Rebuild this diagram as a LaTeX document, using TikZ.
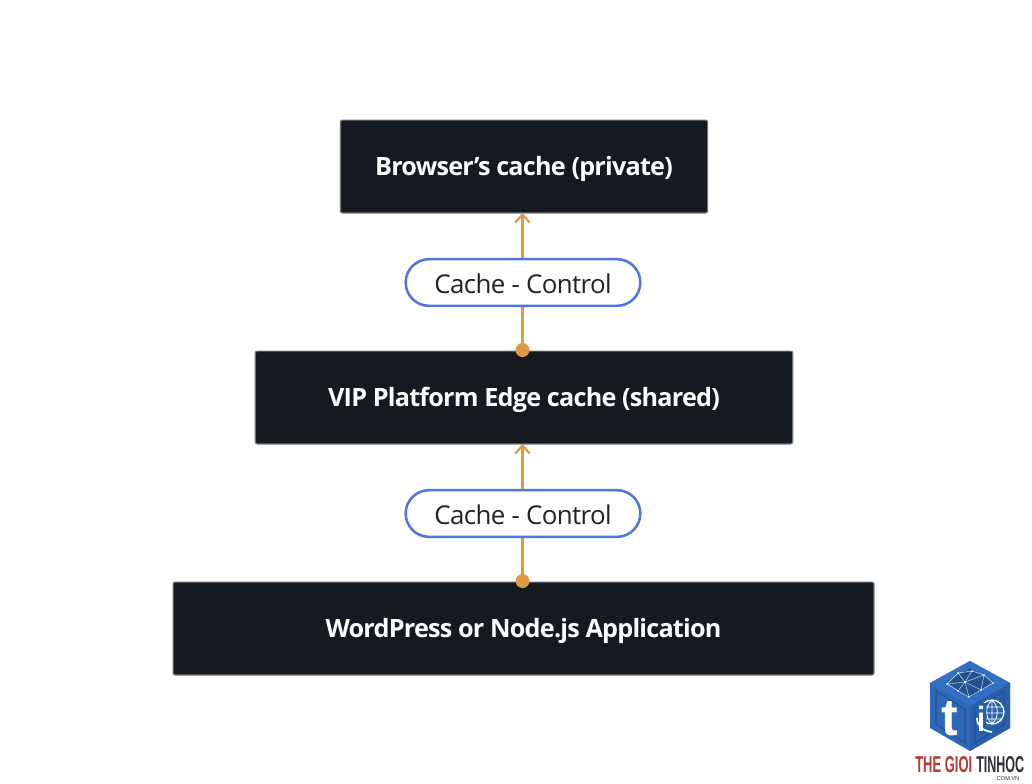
\documentclass[tikz,border=0pt]{standalone}
\usepackage{fontspec}
\setmainfont[LetterSpace=-2.2,BoldFeatures={LetterSpace=-3.1}]{Open Sans}
\newfontfamily\logofont{Liberation Sans}
\usetikzlibrary{arrows.meta}
\definecolor{boxfill}{HTML}{141A20}
\definecolor{boxedge}{HTML}{6F7276}
\definecolor{linkc}{HTML}{DF9A45}
\definecolor{pillc}{HTML}{4F76DC}
\definecolor{pilltext}{HTML}{1D2329}
\definecolor{cubeA}{HTML}{2E68B8}
\definecolor{cubeB}{HTML}{2A5FAE}
\definecolor{cubeC}{HTML}{3470C2}
\definecolor{cubeD}{HTML}{24528F}
\definecolor{logored}{HTML}{B5392F}
\definecolor{logodark}{HTML}{2B3036}
\newcommand{\lowtext}[2]{\raisebox{-#1}[0pt][0pt]{#2}}
\tikzset{
  x=0.75pt,y=-0.75pt,
  darkbox/.style={draw=boxedge,line width=0.9pt,fill=boxfill,rounded corners=1.5pt,inner sep=0pt,minimum height=69.6pt,
    text=white,font=\fontsize{18.9pt}{20pt}\selectfont\bfseries},
  pill/.style={draw=pillc,line width=1.9pt,fill=white,rounded corners=17.5pt,minimum width=176pt,minimum height=35pt,
    inner sep=0pt,text=pilltext,font=\fontsize{19.4pt}{22pt}\selectfont},
  link/.style={draw=linkc,line width=1.6pt},
  tiparrow/.style={-{Straight Barb[length=6pt,width=11pt,line width=1.6pt]}},
  pin/.style={circle,fill=linkc,minimum size=10.5pt,inner sep=0pt},
  logotext/.style={inner sep=0pt,anchor=south west,font=\logofont\bfseries},
  net/.style={draw=white!85!cubeC,line width=0.3pt},
}
\begin{document}
\begin{tikzpicture}
\useasboundingbox (0,0) rectangle (1032,783);
\fill[white] (0,0) rectangle (1032,783);
% boxes
\node[darkbox,minimum width=275.4pt] (browser) at (524,166.5) {\lowtext{6.4pt}{Browser’s cache (private)}};
\node[darkbox,minimum width=403pt] (edge) at (524,397.5) {\lowtext{6.4pt}{VIP Platform Edge cache (shared)}};
\node[darkbox,minimum width=525.6pt] (app) at (523.5,628.5) {\lowtext{6.4pt}{WordPress or Node.js Application}};
% anchors
\node[pin] (pinA) at (522.5,350) {};
\node[pin] (pinB) at (522.5,581) {};
\coordinate (topA) at (522.5,213);
\coordinate (topB) at (522.5,444);
\draw[link,tiparrow] (pinA.center) -- (topA);
\draw[link,tiparrow] (pinB.center) -- (topB);
\node[pill] (pillA) at (523,282.5) {\lowtext{8.3pt}{Cache - Control}};
\node[pill] (pillB) at (523,513.5) {\lowtext{8.3pt}{Cache - Control}};
% logo cube
\fill[cubeA] (970,661) -- (1010,683) -- (1010,728) -- (970,751) -- (930,728) -- (930,683) -- cycle;
\fill[cubeC] (970,661) -- (1010,683) -- (970,706) -- (930,683) -- cycle;
\fill[cubeB] (970,706) -- (1010,683) -- (1010,728) -- (970,751) -- cycle;
\fill[cubeD] (970,668) -- (993,682) -- (970,698) -- (947,682) -- cycle;
\draw[cubeD,line width=0.8pt,fill=cubeA] (936,691) -- (965,709) -- (965,743) -- (936,724) -- cycle;
\draw[cubeD,line width=0.8pt,fill=cubeB] (975,709) -- (1004,691) -- (1004,724) -- (975,743) -- cycle;
% network on the top face
\draw[net] (947,684) -- (958,673) -- (972,671) -- (984,675) -- (993,683) -- (981,690) -- (969,697) -- (958,691) -- cycle
  (958,673) -- (965,682) -- (972,671) (965,682) -- (984,675) (965,682) -- (947,684) (965,682) -- (958,691)
  (965,682) -- (969,697) (965,682) -- (981,690) -- (984,675) (981,690) -- (993,683);
\foreach \px/\py in {958/673,972/671,984/675,965/682,981/690,958/691,969/697,947/684,993/683}
  \fill[white] (\px,\py) circle (0.8);
% logo letters
\node[inner sep=0pt,text=white,font=\logofont\bfseries] (logot) at (950,719) {\resizebox{12.5pt}{25.5pt}{t}};
\draw[white,line width=1pt] (992,712) circle (12);
\draw[white,line width=0.6pt] (992,700) .. controls (985,706) and (985,718) .. (992,724)
  (992,700) .. controls (999,706) and (999,718) .. (992,724) (992,700) -- (992,724)
  (981,707) -- (1003,707) (980,713) -- (1004,713) (982,719) -- (1002,719);
\fill[cubeB] (976,703) rectangle (985.5,733);
\draw[white,line width=1.3pt] (977,718) .. controls (977,726) and (983,731) .. (992,732);
\node[inner sep=0pt,text=white,font=\logofont\bfseries] (logoi) at (981.5,719) {\resizebox{6pt}{19pt}{i}};
% logo wordmark
\node[logotext,text=logored] (logoa) at (915,773) {\resizebox{42.75pt}{12pt}{THE GIOI}};
\node[logotext,text=logodark] (logob) at (976,773) {\resizebox{36pt}{12pt}{TINHOC}};
\node[inner sep=0pt,anchor=south west,text=logodark,font=\logofont] (logoc) at (995,780.5) {\resizebox{18pt}{3pt}{.COM.VN}};
\end{tikzpicture}
\end{document}
